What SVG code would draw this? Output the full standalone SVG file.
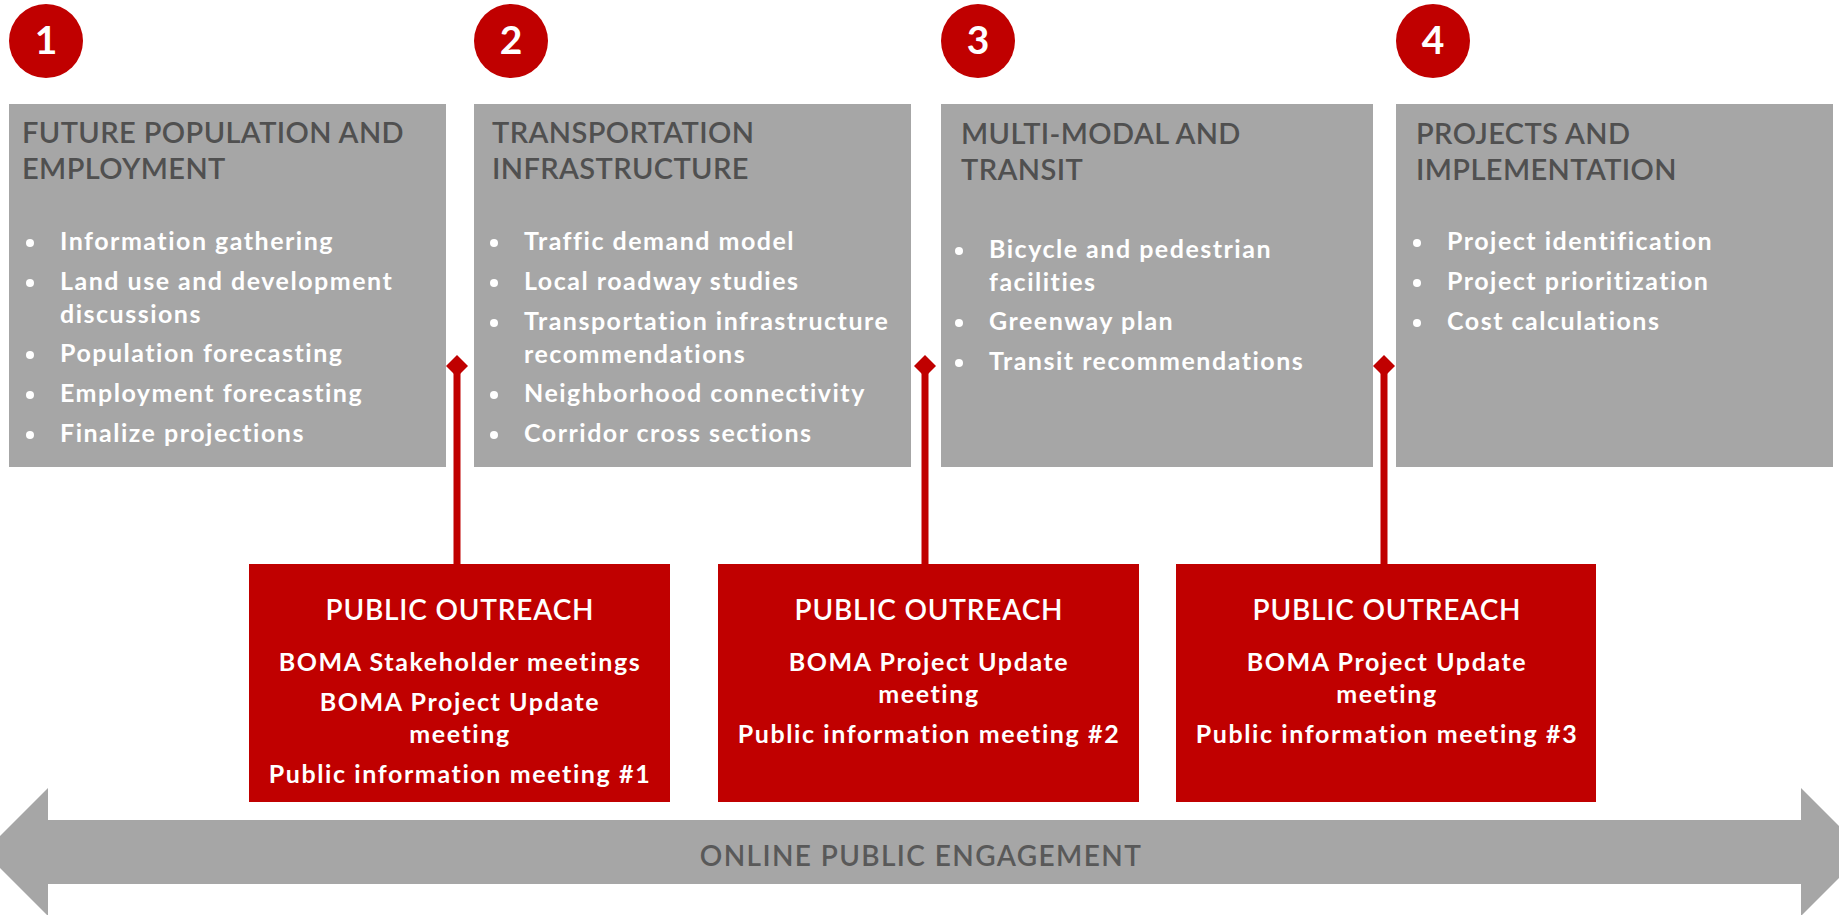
<svg xmlns="http://www.w3.org/2000/svg" width="1839" height="915" viewBox="0 0 1839 915">
<style>
.box{fill:#A6A6A6}
.red{fill:#C00000}
.num{font-family:Lato,"Liberation Sans",sans-serif;font-weight:700;font-size:39px;fill:#fff;text-anchor:middle}
.ttl{font-family:Lato,"Liberation Sans",sans-serif;font-weight:600;font-size:29px;letter-spacing:0.4px;fill:#505050}
.itm{font-family:Lato,"Liberation Sans",sans-serif;font-weight:700;font-size:25px;letter-spacing:1.5px;fill:#fff}
.rt{font-family:Lato,"Liberation Sans",sans-serif;font-weight:600;font-size:28px;letter-spacing:0.8px;fill:#fff;text-anchor:middle}
.rl{font-family:Lato,"Liberation Sans",sans-serif;font-weight:700;font-size:25px;letter-spacing:1.6px;fill:#fff;text-anchor:middle}
.arr{font-family:Lato,"Liberation Sans",sans-serif;font-weight:600;font-size:28px;letter-spacing:1.4px;fill:#595959;text-anchor:middle}
.dot{fill:#fff}
.conn{stroke:#C00000;stroke-width:7;fill:none}
</style>
<g id="engagement">
<polygon class="box" points="-16,852 48,788 48,820 1801,820 1801,788 1865,852 1801,916 1801,884 48,884 48,916"/>
<text class="arr" x="921" y="866">ONLINE PUBLIC ENGAGEMENT</text>
</g>
<g id="connectors">
<line class="conn" x1="457" y1="372" x2="457" y2="565"/>
<polygon class="red" points="457,355 468,366 457,377 446,366"/>
<line class="conn" x1="925" y1="372" x2="925" y2="565"/>
<polygon class="red" points="925,355 936,366 925,377 914,366"/>
<line class="conn" x1="1384" y1="372" x2="1384" y2="565"/>
<polygon class="red" points="1384,355 1395,366 1384,377 1373,366"/>
</g>
<g id="step1">
<circle class="red" cx="46" cy="41" r="37"/>
<text class="num" x="46" y="54">1</text>
<rect class="box" x="9" y="104" width="437" height="363"/>
<text class="ttl" x="22" y="143">FUTURE POPULATION AND</text>
<text class="ttl" x="22" y="179">EMPLOYMENT</text>
<circle class="dot" cx="30" cy="243" r="4"/><text class="itm" x="60" y="250">Information gathering</text>
<circle class="dot" cx="30" cy="283" r="4"/><text class="itm" x="60" y="290">Land use and development</text>
<text class="itm" x="60" y="323">discussions</text>
<circle class="dot" cx="30" cy="355" r="4"/><text class="itm" x="60" y="362">Population forecasting</text>
<circle class="dot" cx="30" cy="395" r="4"/><text class="itm" x="60" y="402">Employment forecasting</text>
<circle class="dot" cx="30" cy="435" r="4"/><text class="itm" x="60" y="442">Finalize projections</text>
</g>
<g id="step2">
<circle class="red" cx="511" cy="41" r="37"/>
<text class="num" x="511" y="54">2</text>
<rect class="box" x="474" y="104" width="437" height="363"/>
<text class="ttl" x="492" y="143">TRANSPORTATION</text>
<text class="ttl" x="492" y="179">INFRASTRUCTURE</text>
<circle class="dot" cx="494" cy="243" r="4"/><text class="itm" x="524" y="250">Traffic demand model</text>
<circle class="dot" cx="494" cy="283" r="4"/><text class="itm" x="524" y="290">Local roadway studies</text>
<circle class="dot" cx="494" cy="323" r="4"/><text class="itm" x="524" y="330">Transportation infrastructure</text>
<text class="itm" x="524" y="363">recommendations</text>
<circle class="dot" cx="494" cy="395" r="4"/><text class="itm" x="524" y="402">Neighborhood connectivity</text>
<circle class="dot" cx="494" cy="435" r="4"/><text class="itm" x="524" y="442">Corridor cross sections</text>
</g>
<g id="step3">
<circle class="red" cx="978" cy="41" r="37"/>
<text class="num" x="978" y="54">3</text>
<rect class="box" x="941" y="104" width="432" height="363"/>
<text class="ttl" x="961" y="144">MULTI-MODAL AND</text>
<text class="ttl" x="961" y="180">TRANSIT</text>
<circle class="dot" cx="959" cy="251" r="4"/><text class="itm" x="989" y="258">Bicycle and pedestrian</text>
<text class="itm" x="989" y="291">facilities</text>
<circle class="dot" cx="959" cy="323" r="4"/><text class="itm" x="989" y="330">Greenway plan</text>
<circle class="dot" cx="959" cy="363" r="4"/><text class="itm" x="989" y="370">Transit recommendations</text>
</g>
<g id="step4">
<circle class="red" cx="1433" cy="41" r="37"/>
<text class="num" x="1433" y="54">4</text>
<rect class="box" x="1396" y="104" width="437" height="363"/>
<text class="ttl" x="1416" y="144">PROJECTS AND</text>
<text class="ttl" x="1416" y="180">IMPLEMENTATION</text>
<circle class="dot" cx="1417" cy="243" r="4"/><text class="itm" x="1447" y="250">Project identification</text>
<circle class="dot" cx="1417" cy="283" r="4"/><text class="itm" x="1447" y="290">Project prioritization</text>
<circle class="dot" cx="1417" cy="323" r="4"/><text class="itm" x="1447" y="330">Cost calculations</text>
</g>
<g id="outreach1">
<rect class="red" x="249" y="564" width="421" height="238"/>
<text class="rt" x="460" y="620">PUBLIC OUTREACH</text>
<text class="rl" x="460" y="671">BOMA Stakeholder meetings</text>
<text class="rl" x="460" y="711">BOMA Project Update</text>
<text class="rl" x="460" y="743">meeting</text>
<text class="rl" x="460" y="783">Public information meeting #1</text>
</g>
<g id="outreach2">
<rect class="red" x="718" y="564" width="421" height="238"/>
<text class="rt" x="929" y="620">PUBLIC OUTREACH</text>
<text class="rl" x="929" y="671">BOMA Project Update</text>
<text class="rl" x="929" y="703">meeting</text>
<text class="rl" x="929" y="743">Public information meeting #2</text>
</g>
<g id="outreach3">
<rect class="red" x="1176" y="564" width="420" height="238"/>
<text class="rt" x="1387" y="620">PUBLIC OUTREACH</text>
<text class="rl" x="1387" y="671">BOMA Project Update</text>
<text class="rl" x="1387" y="703">meeting</text>
<text class="rl" x="1387" y="743">Public information meeting #3</text>
</g>
</svg>
